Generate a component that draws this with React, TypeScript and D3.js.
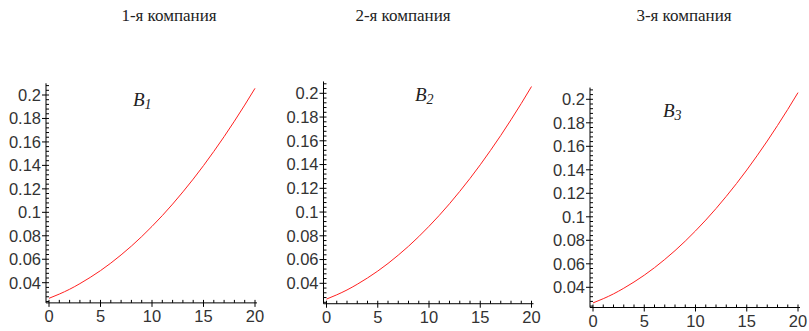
import React from "react";
import * as d3 from "d3";

// chart data
const titles = ["1-я компания", "2-я компания", "3-я компания"];
const seriesNames = ["B", "B", "B"];
const seriesIdx = ["1", "2", "3"];
const xValues = [0, 1, 2, 3, 4, 5, 6, 7, 8, 9, 10, 11, 12, 13, 14, 15, 16, 17, 18, 19, 20];
const b1 = [0.0267, 0.0303, 0.0344, 0.0392, 0.0445, 0.0503, 0.0567, 0.0637, 0.0712, 0.0793, 0.088,
  0.0972, 0.107, 0.1174, 0.1283, 0.1398, 0.1519, 0.1645, 0.1777, 0.1914, 0.2057];
const b2 = [0.0267, 0.0303, 0.0344, 0.0392, 0.0445, 0.0503, 0.0567, 0.0637, 0.0712, 0.0793, 0.088,
  0.0972, 0.107, 0.1174, 0.1283, 0.1398, 0.1519, 0.1645, 0.1777, 0.1914, 0.2057];
const b3 = [0.0267, 0.0303, 0.0344, 0.0392, 0.0445, 0.0503, 0.0567, 0.0637, 0.0712, 0.0793, 0.088,
  0.0972, 0.107, 0.1174, 0.1283, 0.1398, 0.1519, 0.1645, 0.1777, 0.1914, 0.2057];
const series = [b1, b2, b3];
const xTicks = [0, 5, 10, 15, 20];
const yTicks = [0.04, 0.06, 0.08, 0.1, 0.12, 0.14, 0.16, 0.18, 0.2];
const yTickLabels = ["0.04", "0.06", "0.08", "0.1", "0.12", "0.14", "0.16", "0.18", "0.2"];

// layout of each panel (pixels)
const panels = [
  { x0: 49, x1: 255, yTop: 95, yBot: 282.7, titleX: 169, labX: 133, labY: 106 },
  { x0: 326.5, x1: 531.5, yTop: 93.3, yBot: 283.3, titleX: 403, labX: 415, labY: 101 },
  { x0: 593, x1: 798, yTop: 99.3, yBot: 287.3, titleX: 684, labX: 663, labY: 117 },
];

const yMin = 0.0228;
const yMax = 0.21;

const Panel = ({ p, data, title, name, idx }) => {
  const x = d3.scaleLinear().domain([0, 20]).range([p.x0, p.x1]);
  const y = d3.scaleLinear().domain([0.04, 0.2]).range([p.yBot, p.yTop]);
  const axisX = p.x0 - 3;
  const axisY = y(yMin);
  const line = d3.line<number>()
    .x((_, i) => x(xValues[i]))
    .y(d => y(d))
    .curve(d3.curveMonotoneX);

  const minorX = d3.range(0, 21, 1).filter(v => v % 5 !== 0);
  const minorY = d3.range(0.024, 0.2101, 0.004).filter(v => Math.abs(Math.round(v / 0.02) * 0.02 - v) > 1e-6);

  return (
    <g>
      <text x={p.titleX} y={21} textAnchor="middle"
        style={{ fontFamily: "Liberation Serif, serif", fontSize: 17 }} fill="#222">{title}</text>

      {/* axes */}
      <line x1={axisX} x2={axisX} y1={y(yMax)} y2={axisY} stroke="#000" />
      <line x1={axisX} x2={p.x1 + 2} y1={axisY} y2={axisY} stroke="#000" />

      {yTicks.map((t, i) => (
        <g key={"y" + i}>
          <line x1={axisX - 4} x2={axisX + 3} y1={y(t)} y2={y(t)} stroke="#000" />
          <text x={axisX - 5} y={y(t)} dy="0.36em" textAnchor="end"
            style={{ fontFamily: "Liberation Sans, Arial, sans-serif", fontSize: 16.5 }} fill="#333">{yTickLabels[i]}</text>
        </g>
      ))}
      {minorY.map((t, i) => (
        <line key={"my" + i} x1={axisX} x2={axisX + 3} y1={y(t)} y2={y(t)} stroke="#000" />
      ))}

      {xTicks.map((t, i) => (
        <g key={"x" + i}>
          <line x1={x(t)} x2={x(t)} y1={axisY - 3} y2={axisY + 4} stroke="#000" />
          <text x={x(t)} y={axisY + 19}
            textAnchor="middle"
            style={{ fontFamily: "Liberation Sans, Arial, sans-serif", fontSize: 16.5 }} fill="#333">{t}</text>
        </g>
      ))}
      {minorX.map((t, i) => (
        <line key={"mx" + i} x1={x(t)} x2={x(t)} y1={axisY - 3} y2={axisY} stroke="#000" />
      ))}

      <path d={line(data) || ""} fill="none" stroke="#ff2020" strokeWidth={1} />

      <text x={p.labX} y={p.labY}
        style={{ fontFamily: "Liberation Serif, serif", fontSize: 19, fontStyle: "italic" }} fill="#222">
        {name}
        <tspan dy="3" style={{ fontSize: 14 }}>{idx}</tspan>
      </text>
    </g>
  );
};

const App = () => {
  return (
    <svg width={809} height={331} style={{ position: "absolute", left: 0, top: 0, background: "#fff" }}>
      {panels.map((p, i) => (
        <Panel key={i} p={p} data={series[i]} title={titles[i]} name={seriesNames[i]} idx={seriesIdx[i]} />
      ))}
    </svg>
  );
};

export default App;
